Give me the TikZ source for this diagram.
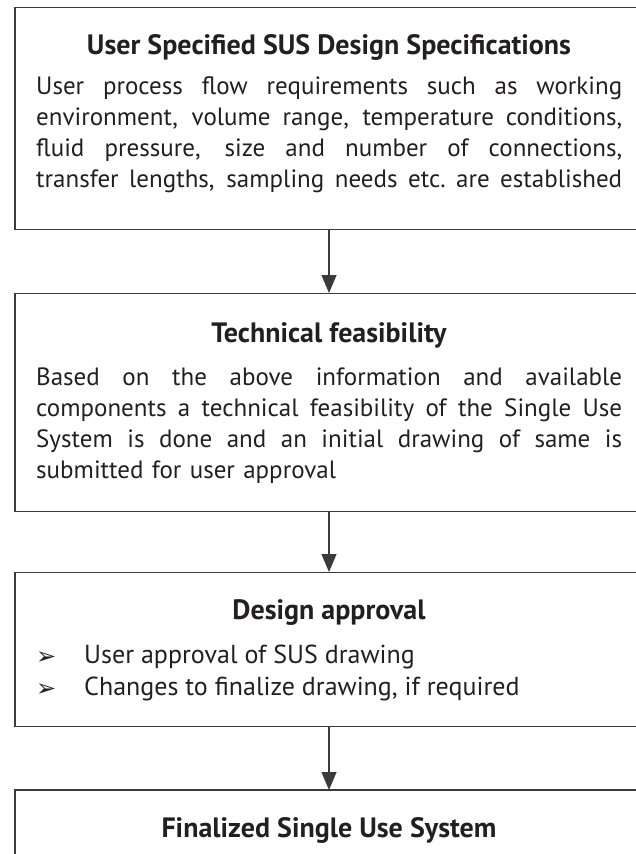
\documentclass[tikz,border=0pt]{standalone}
\usepackage{fontspec}
\setmainfont{PT Sans}
\newfontfamily\symfont{DejaVu Sans}
\usetikzlibrary{arrows.meta}
\definecolor{txt}{HTML}{231F20}
\definecolor{ln}{HTML}{3A3A3A}
\newcommand{\fl}[1]{\leavevmode\hbox to 586pt{\spaceskip=0.2em plus 1fil minus 0.05em\xspaceskip=\spaceskip #1}}
\begin{document}
\begin{tikzpicture}[x=1pt,y=-1pt,
 box/.style={draw=ln, line width=1.3pt, minimum width=628pt, inner sep=0pt, anchor=north},
 ttl/.style={font=\fontsize{28}{31}\selectfont\bfseries, text=txt, anchor=base, inner sep=0pt},
 body/.style={text width=586pt, align=left, font=\fontsize{25}{31}\selectfont, text=txt, inner sep=0pt, anchor=north west},
 item/.style={font=\fontsize{26}{31}\selectfont, text=txt, inner sep=0pt, anchor=base west},
 bul/.style={font=\symfont\fontsize{24}{26}\selectfont, text=txt, inner sep=0pt, anchor=base west},
 arr/.style={draw=ln, line width=1.2pt, -{Triangle[width=15pt,length=18pt]}},
]
\useasboundingbox (0,0) rectangle (635,854);
% boxes
\node[box, minimum height=222pt] (b1) at (329,7) {};
\node[box, minimum height=218pt] (b2) at (329,293) {};
\node[box, minimum height=154pt] (b3) at (329,572) {};
\coordinate (b4) at (329,790);
\coordinate (b4w) at (15,790);
\coordinate (b4e) at (643,790);
\coordinate (b4sw) at (15,870);
\coordinate (b4se) at (643,870);
\draw[draw=ln, line width=1.3pt] (b4sw) -- (b4w) -- (b4e) -- (b4se);
% arrows
\draw[arr] (b1.south) -- (b2.north);
\draw[arr] (b2.south) -- (b3.north);
\draw[arr] (b3.south) -- (b4);
% box 1
\node[ttl] (h1) at (329,54) {User Specified SUS Design Specifications};
\node[body] (t1) at (36,76) {\fl{User process flow requirements such as working}\\ \fl{environment, volume range, temperature conditions,}\\ \fl{fluid pressure, size and number of connections,}\\ \fl{transfer lengths, sampling needs etc. are established}};
% box 2
\node[ttl] (h2) at (329,342) {Technical feasibility};
\node[body] (t2) at (36,368) {\fl{Based on the above information and available}\\ \fl{components a technical feasibility of the Single Use}\\ \fl{System is done and an initial drawing of same is}\\ submitted for user approval};
% box 3
\node[ttl] (h3) at (329,619) {Design approval};
\node[bul] (k1) at (36,664) {➢};
\node[item] (i1) at (84,663) {User approval of SUS drawing};
\node[bul] (k2) at (36,696) {➢};
\node[item] (i2) at (84,695) {Changes to finalize drawing, if required};
% box 4
\node[ttl] (h4) at (329,837) {Finalized Single Use System};
\end{tikzpicture}
\end{document}
